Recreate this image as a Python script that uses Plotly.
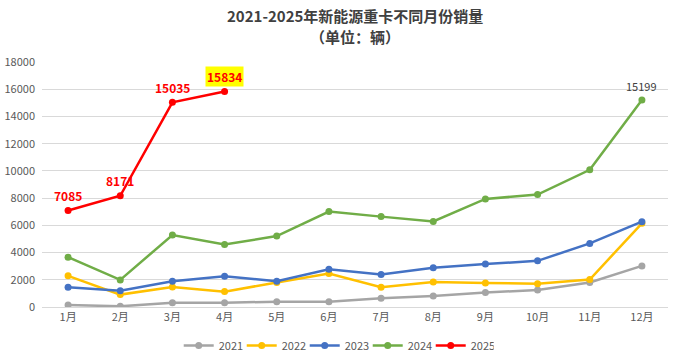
import plotly.graph_objects as go

months = ["1月", "2月", "3月", "4月", "5月", "6月", "7月", "8月", "9月", "10月", "11月", "12月"]
y2021 = [150, 50, 320, 310, 390, 390, 640, 810, 1060, 1250, 1800, 3020]
y2022 = [2290, 910, 1475, 1130, 1800, 2460, 1450, 1840, 1770, 1700, 2020, 6150]
y2023 = [1450, 1200, 1890, 2260, 1890, 2780, 2390, 2880, 3150, 3390, 4670, 6270]
y2024 = [3660, 1990, 5290, 4600, 5210, 7010, 6640, 6290, 7940, 8260, 10080, 15199]
y2025 = [7085, 8171, 15035, 15834]

series = [
    ("2021", y2021, "#a5a5a5"),
    ("2022", y2022, "#ffc000"),
    ("2023", y2023, "#4472c4"),
    ("2024", y2024, "#70ad47"),
    ("2025", y2025, "#ff0000"),
]

FONT = "Noto Sans CJK SC"

fig = go.Figure()
for name, vals, color in series:
    fig.add_trace(go.Scatter(
        x=months[:len(vals)], y=vals, name=name, mode="lines+markers",
        line=dict(color=color, width=2.5),
        marker=dict(color=color, size=7),
    ))

annotations = []
for i, v in enumerate(y2025):
    highlight = i == len(y2025) - 1
    annotations.append(dict(
        x=months[i], y=v, xref="x", yref="y", text=f"<b>{v}</b>",
        showarrow=False, yshift=15,
        font=dict(family=FONT, size=12, color="#ff0000"),
        bgcolor="#ffff00" if highlight else None,
        borderpad=1,
    ))
annotations.append(dict(
    x=months[len(y2024) - 1], y=y2024[-1], xref="x", yref="y", text=str(y2024[-1]),
    showarrow=False, yshift=14,
    font=dict(family=FONT, size=11, color="#404040"),
))
annotations.append(dict(
    x=0.5, y=1.19, xref="paper", yref="paper", text="<b>2021-2025年新能源重卡不同月份销量</b>",
    showarrow=False, xanchor="center", yanchor="middle",
    font=dict(family=FONT, size=15, color="#404040"),
))
annotations.append(dict(
    x=0.5, y=1.106, xref="paper", yref="paper", text="<b>（单位：辆）</b>",
    showarrow=False, xanchor="center", yanchor="middle",
    font=dict(family=FONT, size=15, color="#404040"),
))

fig.update_layout(
    width=680, height=354,
    margin=dict(l=42, r=12, t=62, b=47, autoexpand=False),
    paper_bgcolor="white", plot_bgcolor="white",
    font=dict(family=FONT, size=11, color="#595959"),
    showlegend=True,
    legend=dict(orientation="h", x=0.47, xanchor="center", y=-0.098, yanchor="top",
                font=dict(family=FONT, size=11, color="#595959"), itemwidth=30,
                entrywidth=18, entrywidthmode="pixels",
                bgcolor="rgba(0,0,0,0)"),
    annotations=annotations,
)
fig.update_xaxes(
    type="category", categoryorder="array", categoryarray=months,
    range=[-0.5, 11.5], showgrid=False, showline=True, linecolor="#d9d9d9", linewidth=1,
    ticks="", tickfont=dict(family=FONT, size=11, color="#595959"),
)
fig.update_yaxes(
    range=[0, 18000], dtick=2000, tickformat="d", showgrid=True, gridcolor="#d9d9d9", gridwidth=1,
    zeroline=False, showline=False, ticks="", ticklabelstandoff=6,
    tickfont=dict(family=FONT, size=11, color="#595959"),
)

fig.write_html("out.html")
